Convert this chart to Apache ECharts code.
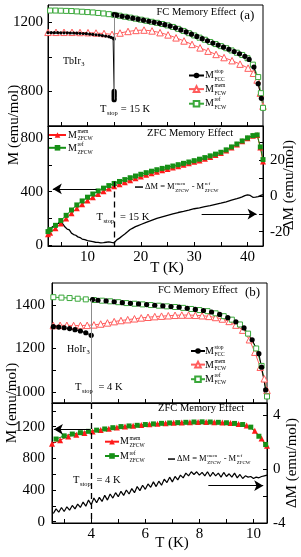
<!DOCTYPE html>
<html><head><meta charset="utf-8">
<script src="https://cdn.jsdelivr.net/npm/echarts@6/dist/echarts.min.js"></script>
<style>html,body{margin:0;padding:0;background:#fff}#c{width:301px;height:557px}</style>
</head><body><div id="c"></div>
<script>
// ---------------- Panel (a) TbIr3 ----------------
const aTickT = [5,10,15,20,25,30,35,40];
const aLabelT = [10,20,30,40];
const aFcTickM = [800,1000,1200];
const aFcLabelM = [800,1200];
const aZfcTickM = [0,200,400,600,800];
const aZfcLabelM = [0,400,800];
const aDmTick = [-20,-10,0,10,20,30];
const aDmLabel = [-20,0,20];

// FC: M_FCC^stop (black)
const aFcStopT = [2.6,3.2,3.8,4.4,5.0,5.6,6.2,6.8,7.4,8.0,8.6,9.2,9.8,10.4,11.0,11.6,12.2,12.8,13.4,14.0,14.4,14.8,15.0,
  15,15,15,15,15, 15,
  15,15.5,16.5,17.5,18.5,19.5,20.5,21.5,22.5,23.5,24.5,25.5,26.5,27.5,28.5,29.5,30.5,31.5,32.5,33.5,34.5,35.5,36.5,37.5,38.5,39.5,40.3,41.2,42.0,42.6];
const aFcStop = [1140,1140,1140,1140,1139,1139,1139,1138,1138,1137,1136,1135,1134,1132,1130,1128,1126,1123,1120,1117,1113,1108,1103,
  800,788,776,764,752, null,
  1245,1241,1235,1230,1224,1218,1212,1206,1200,1194,1186,1178,1168,1156,1144,1131,1118,1105,1093,1080,1068,1056,1044,1031,1018,1003,985,941,845,760];
// FC: M_FCW^mem (red open triangles)
const aFcMemT = [2.6,4.1,5.6,7.1,8.6,10.1,11.6,13.1,14.6,16.1,17.6,19.1,20.6,22.1,23.6,25.1,26.6,28.1,29.6,31.1,32.6,34.1,35.6,37.1,38.6,40.1,41.1,41.8,42.4,42.9];
const aFcMem = [1142,1142,1142,1142,1141,1140,1138,1135,1130,1138,1147,1153,1155,1150,1140,1127,1110,1092,1072,1052,1033,1014,996,978,958,935,905,866,790,715];
// FC: M_FCW^ref (green open squares)
const aFcRefT = [3,4,5,6,7,8,9,10,11,12,13,14,15,16,17,18,19,20,21,22,23,24,25,26,27,28,29,30,31,32,33,34,35,36,37,38,39,40,41,42,42.5,42.9];
const aFcRef = [1268,1268,1267,1266,1265,1263,1261,1259,1257,1254,1251,1247,1243,1238,1232,1227,1221,1215,1209,1203,1197,1190,1182,1173,1162,1150,1137,1124,1111,1099,1086,1074,1062,1050,1037,1024,1011,992,955,883,790,705];
// ZFC: M_ZFCW^mem (red filled triangles) and M_ZFCW^ref (green filled squares)
const aZfcT = [2.6,3,4,5,6,7,8,9,10,11,12,13,14,15,16,17,18,19,20,21,22,23,24,25,26,27,28,29,30,31,32,33,34,35,36,37,38,39,40,41,41.8,42.4,42.9];
const aZfcMem = [80,92,125,160,198,237,275,305,333,358,382,403,424,440,456,471,486,500,513,526,538,549,560,570,580,590,601,612,623,634,646,660,674,689,708,730,753,777,800,818,824,730,625];
const aZfcRef = [100,115,147,183,222,262,300,330,358,382,405,426,445,461,476,490,504,517,530,542,553,564,574,583,592,602,612,622,632,643,655,668,681,695,713,735,757,780,803,820,825,735,640];
// ZFC: Delta M (right axis)
const aDmT = [2.6,3.0,3.4,3.8,4.2,4.6,5.0,5.4,5.8,6.2,6.6,7.0,7.4,7.8,8.2,8.6,9.0,9.5,10,10.5,11,11.5,12,12.5,13,13.5,14,14.5,15,15.5,16,16.5,17,17.5,18,18.5,19,19.5,20,21,22,23,24,25,26,27,28,29,30,31,32,33,34,35,36,37,38,38.5,39,39.5,40,40.5,41,41.5,42,42.5,42.9];
const aDm = [-19.5,-18.2,-17.4,-16.6,-15.9,-15.3,-15.0,-15.8,-17.4,-18.6,-19.0,-20.8,-21.6,-22.0,-22.9,-23.3,-24.1,-24.5,-25.0,-25.3,-25.6,-25.9,-26.0,-26.2,-26.1,-25.9,-25.7,-26.0,-26.2,-24.6,-23.6,-22.4,-21.3,-20.1,-18.8,-18.0,-17.2,-16.6,-16.0,-14.8,-13.7,-12.6,-11.7,-10.9,-10.1,-9.3,-8.7,-8.0,-7.2,-6.7,-6.0,-5.5,-4.8,-4.1,-3.3,-2.4,-1.6,-1.1,-0.6,0.1,0.6,0.2,-0.8,-0.7,-0.4,0.3,0.7];

// ---------------- Panel (b) HoIr3 ----------------
const bTickT = [3,4,5,6,7,8,9,10];
const bLabelT = [4,6,8,10];
const bFcTickM = [1000,1100,1200,1300,1400];
const bFcLabelM = [1000,1200,1400];
const bZfcTickM = [0,200,400,600,800,1000,1200,1400];
const bZfcLabelM = [0,400,800,1200];
const bDmTick = [-4,-2,0,2,4];
const bDmLabel = [-4,0,4];

const bFcStopT = [2.6,2.8,3.0,3.2,3.4,3.6,3.8,4.0, 4.0,
  4.05,4.25,4.55,4.85,5.15,5.45,5.75,6.05,6.35,6.65,6.95,7.25,7.55,7.85,8.15,8.45,8.75,9.05,9.35,9.65,9.95,10.2,10.3,10.45];
const bFcStop = [1300,1298,1295,1291,1286,1280,1272,1260, null,
  1424,1421,1418,1414,1410,1407,1404,1401,1398,1395,1392,1389,1384,1379,1374,1367,1356,1341,1322,1294,1240,1176,1114,1010];
const bFcMemT = [2.6,2.85,3.1,3.35,3.6,3.85,4.1,4.35,4.6,4.85,5.1,5.35,5.6,5.85,6.1,6.35,6.6,6.85,7.1,7.35,7.6,7.85,8.1,8.35,8.6,8.85,9.1,9.35,9.6,9.85,10.05,10.25,10.4,10.5];
const bFcMem = [1305,1306,1306,1305,1305,1306,1308,1312,1317,1323,1328,1332,1336,1340,1343,1346,1348,1350,1352,1353,1353,1352,1350,1347,1342,1335,1324,1307,1284,1240,1183,1114,1061,1008];
const bFcRefT = [2.6,2.9,3.2,3.5,3.8,4.1,4.4,4.7,5.0,5.3,5.6,5.9,6.2,6.5,6.8,7.1,7.4,7.7,8.0,8.3,8.6,8.9,9.2,9.5,9.8,10.1,10.3,10.5];
const bFcRef = [1435,1433,1431,1428,1425,1422,1419,1416,1412,1408,1405,1402,1399,1396,1393,1390,1386,1381,1376,1371,1361,1348,1332,1310,1268,1200,1120,980];
const bZfcMemT = [2.55,2.85,3.15,3.45,3.75,4.05,4.35,4.65,4.95,5.25,5.55,5.85,6.15,6.45,6.75,7.05,7.35,7.65,7.95,8.25,8.55,8.85,9.15,9.45,9.75,10.05,10.3,10.5];
const bZfcMem = [985,1030,1078,1100,1120,1140,1158,1175,1192,1203,1212,1222,1230,1238,1244,1249,1253,1257,1260,1261,1258,1253,1246,1236,1215,1150,1050,960];
const bZfcRefT = [2.7,3.0,3.3,3.6,3.9,4.2,4.5,4.8,5.1,5.4,5.7,6.0,6.3,6.6,6.9,7.2,7.5,7.8,8.1,8.4,8.7,9.0,9.3,9.6,9.9,10.2,10.45];
const bZfcRef = [1045,1085,1108,1125,1142,1157,1172,1188,1202,1210,1218,1228,1236,1243,1248,1252,1256,1260,1262,1260,1256,1250,1242,1228,1195,1080,975];
const bDmT = [2.6,2.7,2.8,2.9,3.0,3.1,3.2,3.3,3.4,3.5,3.6,3.7,3.8,3.9,4.0,4.1,4.2,4.3,4.4,4.5,4.6,4.7,4.8,4.9,5.0,5.1,5.2,5.3,5.4,5.5,5.6,5.7,5.8,5.9,6.0,6.1,6.2,6.3,6.4,6.5,6.6,6.7,6.8,6.9,7.0,7.1,7.2,7.3,7.4,7.5,7.6,7.7,7.8,7.9,8.0,8.1,8.2,8.3,8.4,8.5,8.6,8.7,8.8,8.9,9.0,9.1,9.2,9.3,9.4,9.5,9.6,9.7,9.8,9.9,10.0,10.1,10.2,10.3,10.4,10.5];
const bDm = [-3.30,-2.95,-3.20,-2.85,-3.15,-2.80,-3.05,-2.70,-2.95,-2.60,-2.85,-2.45,-2.75,-2.30,-2.65,-2.15,-2.50,-2.10,-2.40,-1.95,-2.30,-1.85,-2.15,-1.75,-2.05,-1.65,-1.95,-1.55,-1.85,-1.45,-1.75,-1.30,-1.60,-1.20,-1.50,-1.10,-1.35,-0.95,-1.30,-0.90,-1.20,-0.75,-1.00,-0.60,-0.95,-0.55,-0.80,-0.45,-0.65,-0.30,-0.50,-0.20,-0.40,-0.20,-0.45,-0.25,-0.50,-0.20,-0.55,-0.25,-0.50,-0.30,-0.60,-0.25,-0.55,-0.35,-0.60,-0.30,-0.65,-0.40,-0.70,-0.50,-0.60,-0.55,-0.70,-0.60,-0.65,-0.55,-0.50,-0.45];

// ---------------- build ----------------
const FONT = '"Liberation Serif", "Times New Roman", serif';
const RED_L = '#ff5c5c', RED = '#ff1a1a', GREEN_L = '#3aa83a', GREEN = '#169016';
function zip(xs, ys){ return xs.map((x,i)=>[x, ys[i]===null ? '-' : ys[i]]); }
const plain = v => String(v);

function xAx(g, min, max, ticks, labels){
  return {type:'value', gridIndex:g, min, max, position:'bottom',
    axisLine:{show:true, onZero:false, lineStyle:{color:'#000', width:1}},
    axisTick:{show:true, inside:true, length:4, customValues:ticks, lineStyle:{color:'#000'}},
    axisLabel:{show: !!labels, customValues: labels || [], formatter:plain, showMinLabel:true, showMaxLabel:true, hideOverlap:false,
      fontFamily:FONT, fontSize:15, color:'#000', margin:4},
    splitLine:{show:false}};
}
function yAx(g, pos, min, max, ticks, labels, margin){
  return {type:'value', gridIndex:g, position:pos, min, max,
    axisLine:{show:true, onZero:false, lineStyle:{color:'#000', width:1}},
    axisTick:{show:true, inside:true, length:4, customValues:ticks, lineStyle:{color:'#000'}},
    axisLabel:{show:true, customValues:labels, formatter:plain, showMinLabel:true, showMaxLabel:true, hideOverlap:false,
      fontFamily:FONT, fontSize:15, color:'#000', margin},
    splitLine:{show:false}};
}
function ml(data, color, width, type, symbol){
  return {silent:true, animation:false, symbol: symbol || ['none','none'], symbolSize:[8,9],
    label:{show:false}, emphasis:{disabled:true},
    itemStyle:{color}, lineStyle:{color, width, type}, data};
}
function openStyle(c){ return {color:'#fff', borderColor:c, borderWidth:1}; }

const series = [
  // (a) FC
  {name:'aFcMem', type:'line', xAxisIndex:0, yAxisIndex:0, data:zip(aFcMemT,aFcMem), symbol:'triangle', symbolSize:6.5,
    lineStyle:{color:RED_L, width:1}, itemStyle:openStyle(RED_L)},
  {name:'aFcRef', type:'line', xAxisIndex:0, yAxisIndex:0, data:zip(aFcRefT,aFcRef), symbol:'rect', symbolSize:5,
    lineStyle:{color:GREEN_L, width:1}, itemStyle:openStyle(GREEN_L)},
  {name:'aFcStop', type:'line', xAxisIndex:0, yAxisIndex:0, data:zip(aFcStopT,aFcStop), symbol:'circle',
    symbolSize:(v,p)=> p.dataIndex < 23 ? 3.2 : 5.2, connectNulls:false,
    lineStyle:{color:'#000', width:1}, itemStyle:{color:'#000'},
    markLine: ml([[{coord:[15,1245]},{coord:[15,752]}]], '#8c8c8c', 1, 'solid')},
  // (a) ZFC
  {name:'aZfcMem', type:'line', xAxisIndex:1, yAxisIndex:1, data:zip(aZfcT,aZfcMem), symbol:'triangle', symbolSize:6,
    lineStyle:{color:RED, width:1}, itemStyle:{color:RED},
    markLine: ml([[{coord:[11.7,420]},{coord:[3.5,420]}]], '#000', 1.2, 'solid', ['none','arrow'])},
  {name:'aZfcRef', type:'line', xAxisIndex:1, yAxisIndex:1, data:zip(aZfcT,aZfcRef), symbol:'rect', symbolSize:5,
    lineStyle:{color:GREEN, width:1}, itemStyle:{color:GREEN},
    markLine: ml([[{coord:[15,475]},{coord:[15,-8]}]], '#000', 1.3, [6,4])},
  {name:'aDm', type:'line', xAxisIndex:1, yAxisIndex:2, data:zip(aDmT,aDm), symbol:'none',
    lineStyle:{color:'#000', width:1.3}, itemStyle:{color:'#000'},
    markLine: ml([[{coord:[31.4,-10.2]},{coord:[41.7,-10.2]}]], '#000', 1.2, 'solid', ['none','arrow'])},
  // (b) FC
  {name:'bFcMem', type:'line', xAxisIndex:2, yAxisIndex:3, data:zip(bFcMemT,bFcMem), symbol:'triangle', symbolSize:6.5,
    lineStyle:{color:RED_L, width:1}, itemStyle:openStyle(RED_L)},
  {name:'bFcRef', type:'line', xAxisIndex:2, yAxisIndex:3, data:zip(bFcRefT,bFcRef), symbol:'rect', symbolSize:5,
    lineStyle:{color:GREEN_L, width:1}, itemStyle:openStyle(GREEN_L)},
  {name:'bFcStop', type:'line', xAxisIndex:2, yAxisIndex:3, data:zip(bFcStopT,bFcStop), symbol:'circle', symbolSize:5.2,
    connectNulls:false, lineStyle:{color:'#000', width:1}, itemStyle:{color:'#000'},
    markLine: ml([[{coord:[4,1423]},{coord:[4,950]}]], '#8c8c8c', 1, 'solid')},
  // (b) ZFC
  {name:'bZfcMem', type:'line', xAxisIndex:3, yAxisIndex:4, data:zip(bZfcMemT,bZfcMem), symbol:'triangle', symbolSize:6,
    lineStyle:{color:RED, width:1}, itemStyle:{color:RED},
    markLine: ml([[{coord:[3.95,1167]},{coord:[2.62,1167]}]], '#000', 1.2, 'solid', ['none','arrow'])},
  {name:'bZfcRef', type:'line', xAxisIndex:3, yAxisIndex:4, data:zip(bZfcRefT,bZfcRef), symbol:'rect', symbolSize:5,
    lineStyle:{color:GREEN, width:1}, itemStyle:{color:GREEN},
    markLine: ml([[{coord:[4,1500]},{coord:[4,-16]}]], '#000', 1.3, [6,4])},
  {name:'bDm', type:'line', xAxisIndex:3, yAxisIndex:5, data:zip(bDmT,bDm), symbol:'none',
    lineStyle:{color:'#000', width:1.2}, itemStyle:{color:'#000'},
    markLine: ml([[{coord:[8.33,-1.23]},{coord:[10.36,-1.23]}]], '#000', 1.2, 'solid', ['none','arrow'])}
];

function lg(left, top, names, w, gap, extra){
  return Object.assign({left, top, orient:'vertical', itemWidth:w||16, itemHeight:7, itemGap:gap, data:names,
    formatter:()=>'', selectedMode:false, padding:0, textStyle:{fontSize:1}}, extra || {});
}
const legend = [
  lg(188, 72, ['aFcStop','aFcMem','aFcRef'], 15, 7),
  lg(48, 131.5, ['aZfcMem','aZfcRef'], 17, 6.5),
  lg(135, 186.3, ['aDm'], 8, 5, {icon:'rect', itemHeight:1.5}),
  lg(190, 347.5, ['bFcStop','bFcMem','bFcRef'], 14, 7),
  lg(104, 438.2, ['bZfcMem','bZfcRef'], 14, 8),
  lg(168, 458.3, ['bDm'], 7, 5, {icon:'rect', itemHeight:1.5})
];

// ---------- text annotations ----------
const mctx = document.createElement('canvas').getContext('2d');
function tw(t, s){ mctx.font = s + 'px ' + FONT; return mctx.measureText(t).width; }
function tx(x, y, t, s, align){
  return {type:'text', x, y, silent:true, z:100,
    style:{text:t, font: s + 'px ' + FONT, fill:'#000', textAlign:align||'left', textVerticalAlign:'middle', align:align||'left', verticalAlign:'middle'}};
}
const G = [];
function row(x, y, parts){
  let cx = x;
  for (const p of parts){
    if (p.t !== undefined){ G.push(tx(cx, y, p.t, p.s)); cx += tw(p.t, p.s); }
    else {
      const w = Math.max(p.sup ? tw(p.sup, p.s) : 0, p.sub ? tw(p.sub, p.s) : 0);
      if (p.sup) G.push(tx(cx + 0.5, y - p.dy, p.sup, p.s));
      if (p.sub) G.push(tx(cx + 0.5, y + p.dy, p.sub, p.s));
      cx += w + 1;
    }
  }
}
function rot(x, y, t, s){
  G.push({type:'text', x, y, rotation: Math.PI/2, silent:true, z:100,
    style:{text:t, font: s + 'px ' + FONT, fill:'#000', textAlign:'center', textVerticalAlign:'middle', align:'center', verticalAlign:'middle'}});
}
function ctr(x, y, t, s){ G.push(tx(x, y, t, s, 'center')); }
const M = (sup, sub) => [{t:'M', s:10}, {sup, sub, s:5.5, dy:3.6}];
// panel (a)
row(156.5, 12.5, [{t:'FC Memory Effect', s:10.5}]);
row(240, 15.5, [{t:'(a)', s:13}]);
row(63, 61, [{t:'TbIr', s:10}, {sub:'3', s:6.5, dy:3.5}]);
row(100, 109, [{t:'T', s:10.5}, {sub:'stop', s:6.5, dy:4}, {t:' = 15 K', s:10.5}]);
row(205, 75.5, M('stop','FCC'));
row(205, 89.5, M('mem','FCW'));
row(205, 103.5, M('ref','FCW'));
row(147, 133.5, [{t:'ZFC Memory Effect', s:10.5}]);
row(68, 135, M('mem','ZFCW'));
row(68, 148.5, M('ref','ZFCW'));
row(145, 187, [{t:'\u0394M = M', s:8.5}, {sup:'mem', sub:'ZFCW', s:5, dy:3.2}, {t:' - M', s:8.5}, {sup:'ref', sub:'ZFCW', s:5, dy:3.2}]);
row(96.5, 217, [{t:'T', s:10.5}, {sub:'stop', s:6.5, dy:4}, {t:'  = 15 K', s:10.5}]);
// panel (b)
row(158, 290.5, [{t:'FC Memory Effect', s:10.5}]);
row(245, 292.5, [{t:'(b)', s:13}]);
row(67, 349, [{t:'HoIr', s:10}, {sub:'3', s:6.5, dy:3.5}]);
row(75, 387, [{t:'T', s:10.5}, {sub:'stop', s:6.5, dy:4}, {t:'  = 4 K', s:10.5}]);
row(205, 351, M('stop','FCC'));
row(205, 365, M('mem','FCW'));
row(205, 379, M('ref','FCW'));
row(158, 408.5, [{t:'ZFC Memory Effect', s:10.5}]);
row(120, 441.7, M('mem','ZFCW'));
row(120, 456.7, M('ref','ZFCW'));
row(177, 459, [{t:'\u0394M = M', s:8.5}, {sup:'mem', sub:'ZFCW', s:5, dy:3.2}, {t:' - M', s:8.5}, {sup:'ref', sub:'ZFCW', s:5, dy:3.2}]);
row(73, 480, [{t:'T', s:10.5}, {sub:'stop', s:6.5, dy:4}, {t:'  = 4 K', s:10.5}]);
// zero labels of the lower-left axes (hidden by the library at the corner)
G.push(tx(43, 245, '0', 15, 'right'));
G.push(tx(45, 521.7, '0', 15, 'right'));
// axis titles
rot(14, 125, 'M (emu/mol)', 15);
rot(289, 185, '\u0394M (emu/mol)', 15);
ctr(167, 268, 'T (K)', 15);
rot(12, 403, 'M (emu/mol)', 15);
rot(292, 463, '\u0394M (emu/mol)', 15);
ctr(172, 543, 'T (K)', 15);

const gridBase = {show:true, borderColor:'#000', borderWidth:1, backgroundColor:'transparent', containLabel:false};
const option = {
  animation:false,
  backgroundColor:'#fff',
  grid:[
    Object.assign({left:48, top:5, width:215, height:121}, gridBase),
    Object.assign({left:48, top:126, width:215, height:120}, gridBase),
    Object.assign({left:52, top:283, width:215, height:120}, gridBase),
    Object.assign({left:52, top:403, width:215, height:120}, gridBase)
  ],
  xAxis:[
    xAx(0, 2.6, 42.9, aTickT, null),
    xAx(1, 2.6, 42.9, aTickT, aLabelT),
    xAx(2, 2.55, 10.5, bTickT, null),
    xAx(3, 2.55, 10.5, bTickT, bLabelT)
  ],
  yAxis:[
    yAx(0, 'left', 600, 1300, aFcTickM, aFcLabelM, 5),
    yAx(1, 'left', -8, 892, aZfcTickM, aZfcLabelM.filter(v=>v!==0), 5),
    yAx(1, 'right', -28, 39, aDmTick, aDmLabel, 7),
    yAx(2, 'left', 950, 1500, bFcTickM, bFcLabelM, 7),
    yAx(3, 'left', -16, 1500, bZfcTickM, bZfcLabelM.filter(v=>v!==0), 7),
    yAx(3, 'right', -4, 4.9, bDmTick, bDmLabel, 6)
  ],
  legend,
  series,
  graphic:{elements:G}
};
const chart = echarts.init(document.getElementById('c'), null, {renderer:'canvas', width:301, height:557});
chart.setOption(option);
</script></body></html>
